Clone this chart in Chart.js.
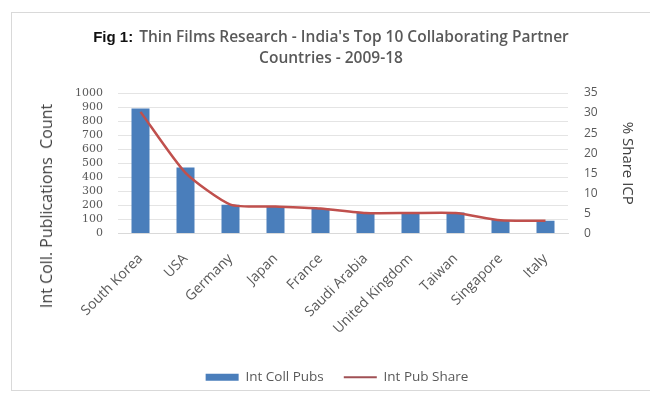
<!DOCTYPE html>
<html>
<head>
<meta charset="utf-8">
<script src="https://cdn.jsdelivr.net/npm/chart.js@4"></script>
<style>
  html, body { margin: 0; padding: 0; background: #fff; overflow: hidden; }
  #wrap { position: relative; width: 650px; height: 394px; }
  #frame { position: absolute; left: 11px; top: 12px; width: 700px; height: 379px; border: 1px solid #d9d9d9; box-sizing: border-box; }
  #title { position: absolute; left: 0; top: 26px; width: 662px; text-align: center; font-family: "Open Sans", sans-serif; font-weight: 600; font-size: 15.5px; line-height: 21px; color: #595959; }
  #title b { font-family: "Liberation Sans", Arial, sans-serif; font-weight: bold; font-size: 15px; color: #111; margin-right: 6px; }
  #ytitle { position: absolute; left: 46px; top: 206px; transform: translate(-50%, -50%) rotate(-90deg); white-space: pre; font-family: "Open Sans", sans-serif; font-size: 16px; color: #404040; }
  canvas { position: absolute; left: 0; top: 0; }
</style>
</head>
<body>
<div id="wrap">
  <div id="frame"></div>
  <canvas id="chart" width="650" height="394"></canvas>
  <div id="title"><b>Fig 1:</b>Thin Films Research - India's Top 10 Collaborating Partner<br>Countries - 2009-18</div>
  <div id="ytitle">Int Coll. Publications  Count</div>
</div>
<script>
var countries = ["South Korea","USA","Germany","Japan","France","Saudi Arabia","United Kingdom","Taiwan","Singapore","Italy"]
var pubs = [890, 470, 205, 190, 178, 152, 150, 150, 96, 90]
var share = [30.3, 15.1, 7.2, 6.7, 6.2, 5.1, 5.1, 5.1, 3.3, 3.2]
var leftTicks = [0,100,200,300,400,500,600,700,800,900,1000]
var rightTicks = [0,5,10,15,20,25,30,35]

var grey = '#595959'

new Chart("chart", {
    type: 'bar',
    data: {
        labels: countries,
        datasets: [{
            type: 'line',
            label: "Int Pub Share",
            data: share,
            yAxisID: 'y1',
            borderColor: "#c0504d",
            backgroundColor: "#a05055",
            borderWidth: 2.5,
            pointRadius: 0,
            tension: 0.2,
            order: 1
        }, {
            label: "Int Coll Pubs",
            data: pubs,
            yAxisID: 'y',
            backgroundColor: "#4a7ebb",
            categoryPercentage: 1,
            barPercentage: 0.4,
            order: 2
        }]
    },
    options: {
        responsive: false,
        animation: false,
        layout: { padding: { top: 93, bottom: 0, left: 24, right: 0 } },
        plugins: {
            tooltip: { enabled: false },
            legend: {
                position: 'bottom',
                reverse: true,
                labels: {
                    usePointStyle: true,
                    pointStyleWidth: 33,
                    boxHeight: 7,
                    padding: 20,
                    color: grey,
                    font: { family: 'Open Sans', size: 13.5 },
                    generateLabels: function(chart) {
                        var items = Chart.defaults.plugins.legend.labels.generateLabels(chart)
                        items.forEach(function(it) {
                            if (it.datasetIndex === 0) {
                                it.pointStyle = 'line'
                                it.strokeStyle = '#a05055'
                                it.lineWidth = 2
                            } else {
                                it.pointStyle = 'rect'
                                it.lineWidth = 0
                            }
                        })
                        return items
                    }
                }
            }
        },
        scales: {
            x: {
                grid: { display: false, drawTicks: false },
                border: { color: '#d9d9d9' },
                ticks: {
                    color: grey,
                    minRotation: 45,
                    maxRotation: 45,
                    padding: 17,
                    font: { family: 'Open Sans', size: 14 }
                },
                afterFit: function(scale) { scale.height = 117 }
            },
            y: {
                position: 'left',
                min: 0,
                max: 1000,
                afterBuildTicks: function(scale) {
                    scale.ticks = leftTicks.map(function(v) { return { value: v } })
                },
                grid: { color: '#e4e4e4', drawTicks: false },
                border: { display: false },
                ticks: {
                    color: grey,
                    padding: 15,
                    autoSkip: false,
                    font: { family: 'DejaVu Serif', size: 11 },
                    callback: function(value) { return String(value) }
                },
                afterFit: function(scale) { scale.width = 94 }
            },
            y1: {
                position: 'right',
                min: 0,
                max: 35,
                afterBuildTicks: function(scale) {
                    scale.ticks = rightTicks.map(function(v) { return { value: v } })
                },
                grid: { display: false, drawTicks: false },
                border: { display: false },
                ticks: {
                    color: grey,
                    padding: 16,
                    autoSkip: false,
                    font: { family: 'Open Sans', size: 12 }
                },
                title: {
                    display: true,
                    text: '% Share ICP',
                    color: '#404040',
                    font: { family: 'Open Sans', size: 15 },
                    padding: { top: 14, bottom: 0 }
                },
                afterFit: function(scale) { scale.width = 82 }
            }
        }
    }
});
</script>
</body>
</html>
